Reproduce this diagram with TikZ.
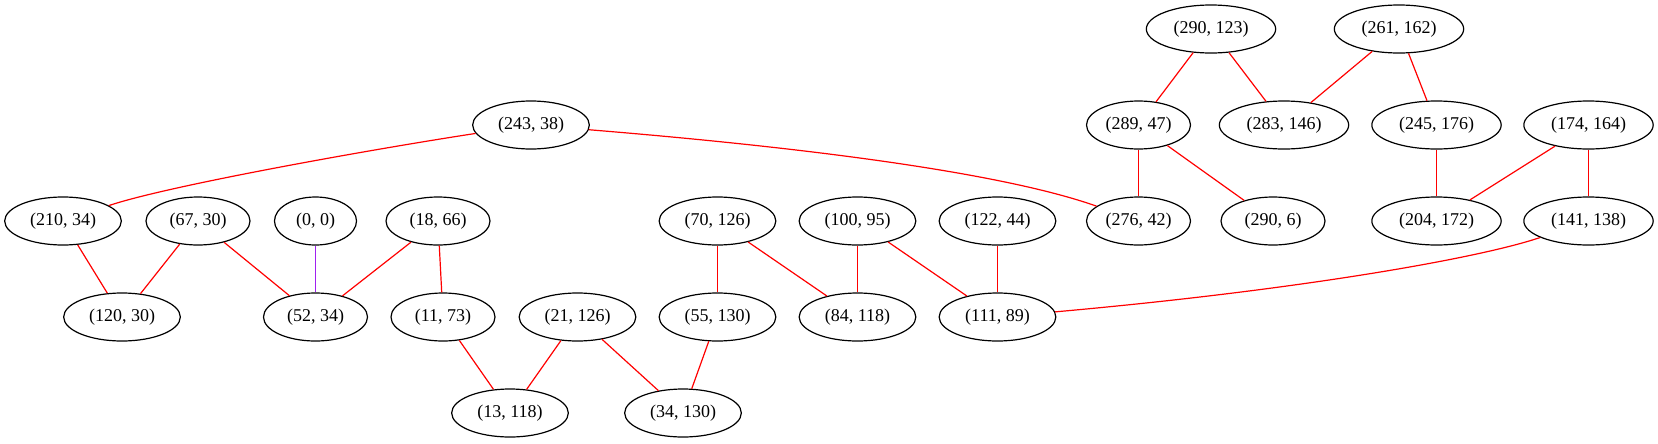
\documentclass[tikz,border=0pt]{standalone}
\usepackage{fontspec}
\setmainfont{Liberation Serif}
\usetikzlibrary{shapes.geometric}
\definecolor{gvpurple}{HTML}{A020F0}
\definecolor{gvred}{HTML}{FF0000}
\begin{document}
\begin{tikzpicture}[x=0.75pt,y=-0.75pt,
  nd/.style={ellipse,draw=black,line width=0.9pt,inner sep=0pt,minimum height=36pt,font=\fontsize{13.5}{16}\selectfont},
  wa/.style={nd,minimum width=61.5pt},
  wb/.style={nd,minimum width=78pt},
  wc/.style={nd,minimum width=87.5pt},
  wd/.style={nd,minimum width=97pt},
  ed/.style={draw=gvred,line width=0.9pt},
  ep/.style={draw=gvpurple,line width=0.9pt}]
\useasboundingbox (0,0) rectangle (1658,443);
% row 1
\node[wd] (n290-123) at (1211,29) {(290, 123)};
\node[wd] (n261-162) at (1399,29) {(261, 162)};
% row 2
\node[wc] (n243-38) at (531,125) {(243, 38)};
\node[wb] (n289-47) at (1138.5,125) {(289, 47)};
\node[wd] (n283-146) at (1284,125) {(283, 146)};
\node[wd] (n245-176) at (1436.5,125) {(245, 176)};
\node[wd] (n174-164) at (1588.5,125) {(174, 164)};
% row 3
\node[wc] (n210-34) at (63,221) {(210, 34)};
\node[wb] (n67-30) at (198,221) {(67, 30)};
\node[wa] (n0-0) at (315.5,221) {(0, 0)};
\node[wb] (n18-66) at (438,221) {(18, 66)};
\node[wc] (n70-126) at (717.5,221) {(70, 126)};
\node[wc] (n100-95) at (857.5,221) {(100, 95)};
\node[wc] (n122-44) at (997.5,221) {(122, 44)};
\node[wb] (n276-42) at (1138.5,221) {(276, 42)};
\node[wb] (n290-6) at (1273,221) {(290, 6)};
\node[wd] (n204-172) at (1436.5,221) {(204, 172)};
\node[wd] (n141-138) at (1588.5,221) {(141, 138)};
% row 4
\node[wc] (n120-30) at (122,317) {(120, 30)};
\node[wb] (n52-34) at (315.5,317) {(52, 34)};
\node[wb] (n11-73) at (443,317) {(11, 73)};
\node[wc] (n21-126) at (577.5,317) {(21, 126)};
\node[wc] (n55-130) at (717.5,317) {(55, 130)};
\node[wc] (n84-118) at (857.5,317) {(84, 118)};
\node[wc] (n111-89) at (997.5,317) {(111, 89)};
% row 5
\node[wc] (n13-118) at (510,413) {(13, 118)};
\node[wc] (n34-130) at (683,413) {(34, 130)};
% edges
\draw[ed] (n243-38) .. controls (380,148) and (170,185) .. (n210-34);
\draw[ed] (n243-38) .. controls (800,147) and (1000,172) .. (n276-42);
\draw[ed] (n210-34) -- (n120-30);
\draw[ed] (n67-30) -- (n120-30);
\draw[ed] (n67-30) -- (n52-34);
\draw[ep] (n0-0) -- (n52-34);
\draw[ed] (n18-66) -- (n52-34);
\draw[ed] (n18-66) -- (n11-73);
\draw[ed] (n11-73) -- (n13-118);
\draw[ed] (n21-126) -- (n13-118);
\draw[ed] (n21-126) -- (n34-130);
\draw[ed] (n55-130) -- (n34-130);
\draw[ed] (n70-126) -- (n55-130);
\draw[ed] (n70-126) -- (n84-118);
\draw[ed] (n100-95) -- (n84-118);
\draw[ed] (n100-95) -- (n111-89);
\draw[ed] (n122-44) -- (n111-89);
\draw[ed] (n141-138) .. controls (1480,258) and (1300,290) .. (n111-89);
\draw[ed] (n290-123) -- (n289-47);
\draw[ed] (n290-123) -- (n283-146);
\draw[ed] (n261-162) -- (n283-146);
\draw[ed] (n261-162) -- (n245-176);
\draw[ed] (n289-47) -- (n276-42);
\draw[ed] (n289-47) -- (n290-6);
\draw[ed] (n245-176) -- (n204-172);
\draw[ed] (n174-164) -- (n204-172);
\draw[ed] (n174-164) -- (n141-138);
\end{tikzpicture}
\end{document}
